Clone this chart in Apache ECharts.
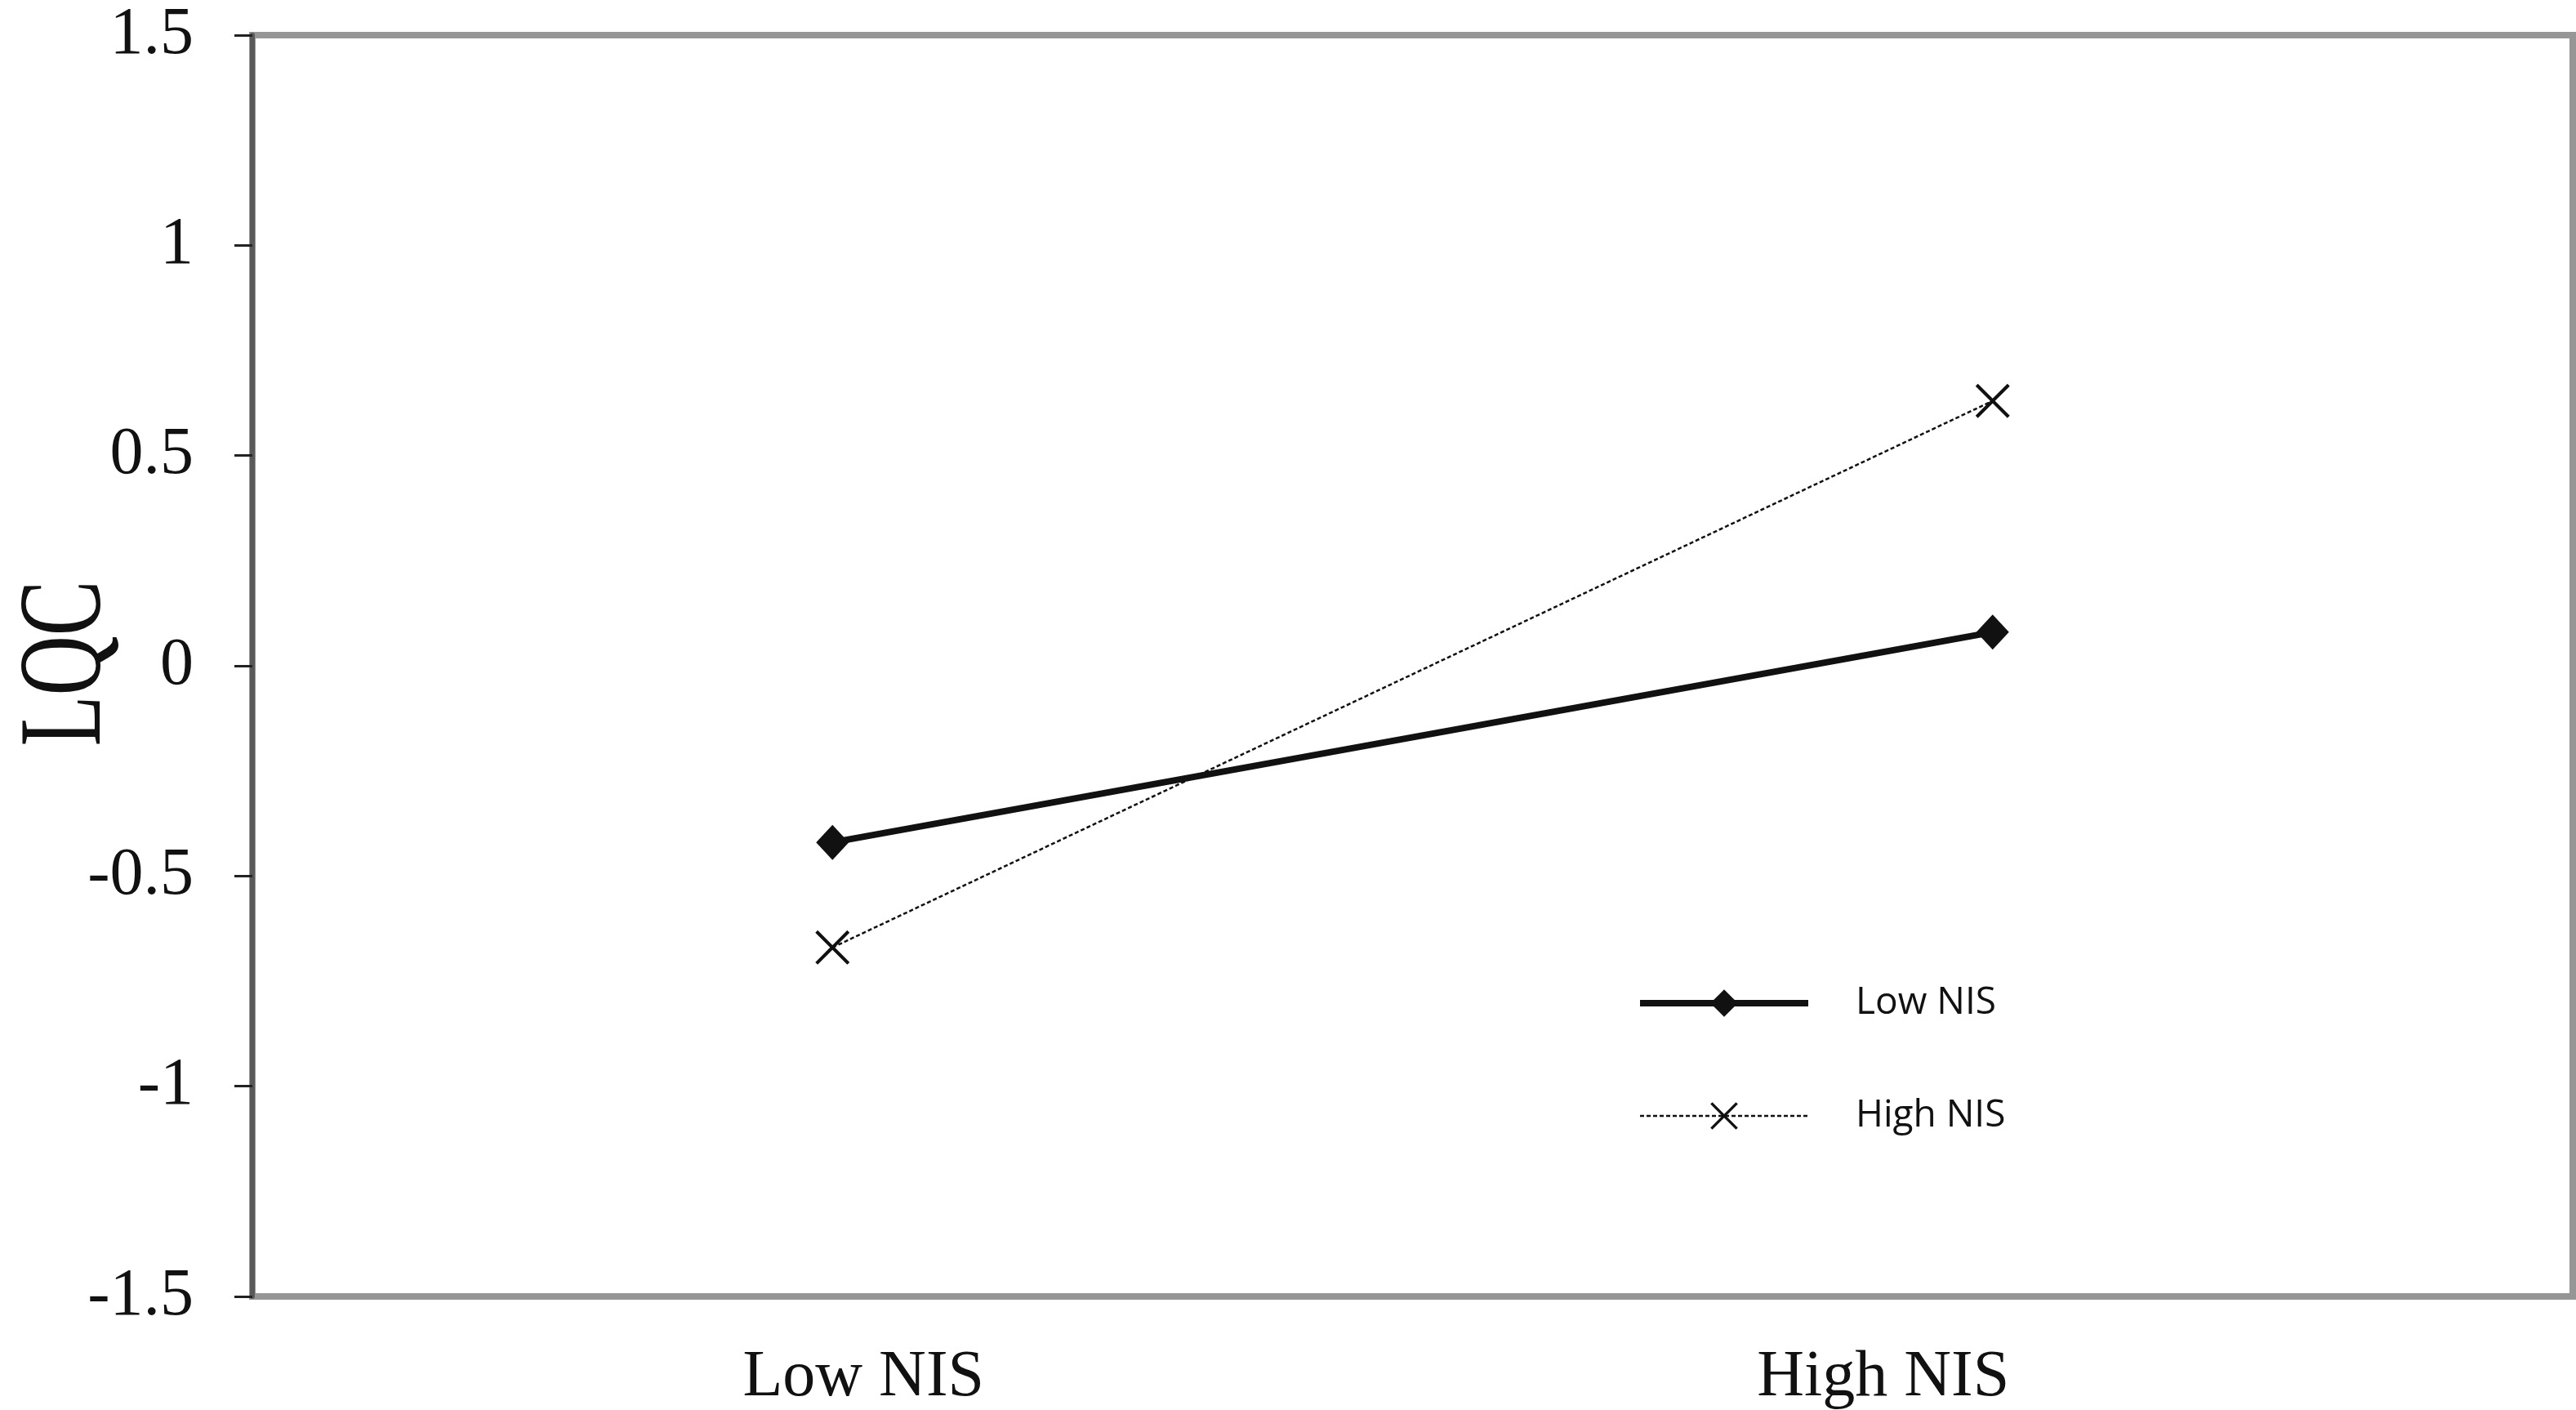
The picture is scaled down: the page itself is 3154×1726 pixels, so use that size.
<!DOCTYPE html>
<html>
<head>
<meta charset="utf-8">
<title>LQC by NIS</title>
<script src="https://cdn.jsdelivr.net/npm/echarts@6/dist/echarts.min.js"></script>
<style>
  html, body { margin: 0; padding: 0; background: #fff; }
  #chart { width: 3154px; height: 1726px; }
</style>
</head>
<body>
<div id="chart"></div>
<script>
// data
const categories = ['Low NIS', 'High NIS'];
const seriesNames = ['Low NIS', 'High NIS'];
const lowNisValues = [-0.42, 0.08];
const highNisValues = [-0.67, 0.63];
const yTicks = { min: -1.5, max: 1.5, step: 0.5 };
const yTitle = 'LQC';

// x-shaped marker as a filled outline
const crossPath = 'path://M0.7,0L5,4.3L9.3,0L10,0.7L5.7,5L10,9.3L9.3,10L5,5.7L0.7,10L0,9.3L4.3,5L0,0.7Z';

const serif = '"Liberation Serif", "Times New Roman", serif';
const sans = '"Open Sans", "Noto Sans", sans-serif';

const chart = echarts.init(document.getElementById('chart'));

const option = {
    backgroundColor: '#fff',
    animation: false,
    grid: {
        left: 309,
        right: 4,
        top: 43,
        bottom: 139,
        outerBoundsMode: 'none',
        show: true,
        borderColor: '#969696',
        borderWidth: 8,
    },
    // axis title is a squeezed serif in the figure, so draw it as rotated text
    graphic: [
        {
            type: 'text',
            x: 84,
            y: 812,
            rotation: Math.PI / 2,
            scaleX: 0.7,
            style: {
                text: yTitle,
                fontFamily: serif,
                fontSize: 145,
                fill: '#111',
                align: 'center',
                verticalAlign: 'middle',
            },
        },
    ],
    legend: {
        orient: 'vertical',
        left: 1999,
        top: 1189,
        itemWidth: 206,
        itemHeight: 42,
        itemGap: 70,
        data: [
            { name: seriesNames[0], lineStyle: { width: 8, color: '#111' } },
            { name: seriesNames[1], lineStyle: { width: 2.5, type: [5, 3], color: '#111' } },
        ],
        textStyle: {
            fontFamily: sans,
            fontSize: 46,
            color: '#111',
            lineHeight: 42,
            padding: [0, 0, 26, 53],
        },
    },
    xAxis: {
        type: 'category',
        data: categories,
        boundaryGap: true,
        axisLine: { show: false },
        axisTick: { show: false },
        axisLabel: {
            margin: 60,
            color: '#111',
            fontFamily: serif,
            fontSize: 80,
            // labels in the figure sit off the category centres
            formatter: (v) => (v === categories[0] ? '{a|' + v + '}' : '{b|' + v + '}'),
            rich: {
                a: { fontFamily: serif, fontSize: 80, color: '#111', padding: [0, 0, 0, 76] },
                b: { fontFamily: serif, fontSize: 80, color: '#111', padding: [0, 268, 0, 0] },
            },
        },
        splitLine: { show: false },
    },
    yAxis: {
        type: 'value',
        min: yTicks.min,
        max: yTicks.max,
        interval: yTicks.step,
        axisLine: { show: true, lineStyle: { color: '#5a5a5a', width: 6 } },
        axisTick: { show: true, inside: false, length: 22, lineStyle: { color: '#222', width: 3 } },
        axisLabel: { margin: 72, color: '#111', fontFamily: serif, fontSize: 82 },
        splitLine: { show: false },
    },
    series: [
        {
            name: seriesNames[0],
            type: 'line',
            data: lowNisValues,
            symbol: 'diamond',
            symbolSize: [40, 43],
            color: '#111',
            itemStyle: { color: '#111' },
            lineStyle: { color: '#111', width: 8 },
            z: 3,
        },
        {
            name: seriesNames[1],
            type: 'line',
            data: highNisValues,
            symbol: crossPath,
            symbolSize: 42,
            color: '#111',
            itemStyle: { color: '#111' },
            lineStyle: { color: '#111', width: 2.5, type: [5, 3] },
            z: 2,
        },
    ],
};

chart.setOption(option);
</script>
</body>
</html>
